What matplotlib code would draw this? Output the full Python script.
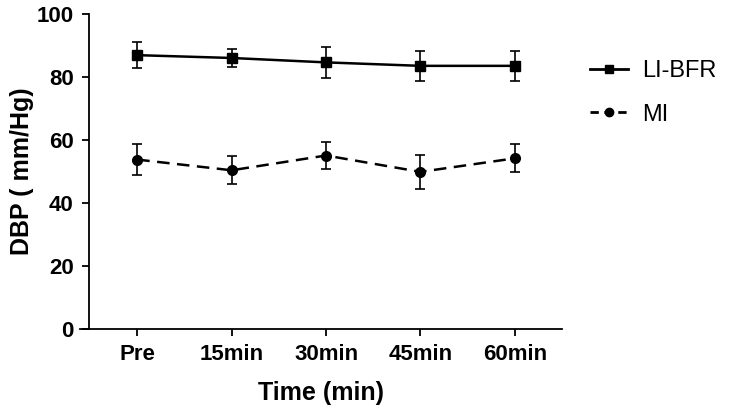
import matplotlib
matplotlib.use('Agg')
import matplotlib.pyplot as plt
from matplotlib.lines import Line2D
import numpy as np

# values
time_labels = ['Pre', '15min', '30min', '45min', '60min']
bfr_mean = [86.9, 86.0, 84.6, 83.5, 83.5]
bfr_err = [4.2, 3.0, 4.9, 4.7, 4.7]
mi_mean = [53.7, 50.3, 55.0, 49.8, 54.1]
mi_err = [4.8, 4.5, 4.2, 5.4, 4.5]

plt.rcParams['font.family'] = ['Liberation Sans', 'DejaVu Sans']

fig = plt.figure(figsize=(7.46, 4.15), dpi=100)
ax = fig.add_axes([0.1068, 0.2084, 0.6465, 0.758])

x = np.arange(len(time_labels))
ax.errorbar(x, bfr_mean, yerr=bfr_err, color='black', lw=1.8, marker='s', ms=7,
            capsize=3.6, elinewidth=1.2, capthick=1.2)
ax.errorbar(x, mi_mean, yerr=mi_err, color='black', lw=1.8, marker='o', ms=7,
            capsize=3.6, elinewidth=1.2, capthick=1.2, dashes=(5, 3))

ax.set_xlim(-0.61, 4.5)
ax.set_ylim(0, 100)
ax.spines['left'].set_position(('data', -0.51))
ax.spines['top'].set_visible(False)
ax.spines['right'].set_visible(False)
for s in ['left', 'bottom']:
    ax.spines[s].set_linewidth(1.3)

ax.set_xticks(x)
ax.set_xticklabels(time_labels)
ax.set_yticks([0, 20, 40, 60, 80, 100])
ax.tick_params(direction='out', length=5, width=1.3, labelsize=16, pad=6)
for lbl in ax.get_xticklabels() + ax.get_yticklabels():
    lbl.set_fontweight('bold')

ax.set_xlabel('Time (min)', fontsize=18, fontweight='bold', labelpad=12)
ax.set_ylabel('DBP ( mm/Hg)', fontsize=18, fontweight='bold', labelpad=2)

# legend handles without the error bars, like the original
handles = [Line2D([], [], color='black', lw=2, marker='s', ms=6),
           Line2D([], [], color='black', lw=2, marker='o', ms=6, dashes=(3, 2))]
ax.legend(handles, ['LI-BFR', 'MI'], loc='upper left', bbox_to_anchor=(1.015, 0.92),
          frameon=False, fontsize=17, handlelength=1.6, handletextpad=0.6,
          labelspacing=0.9)

fig.savefig('out.png', dpi=100)
